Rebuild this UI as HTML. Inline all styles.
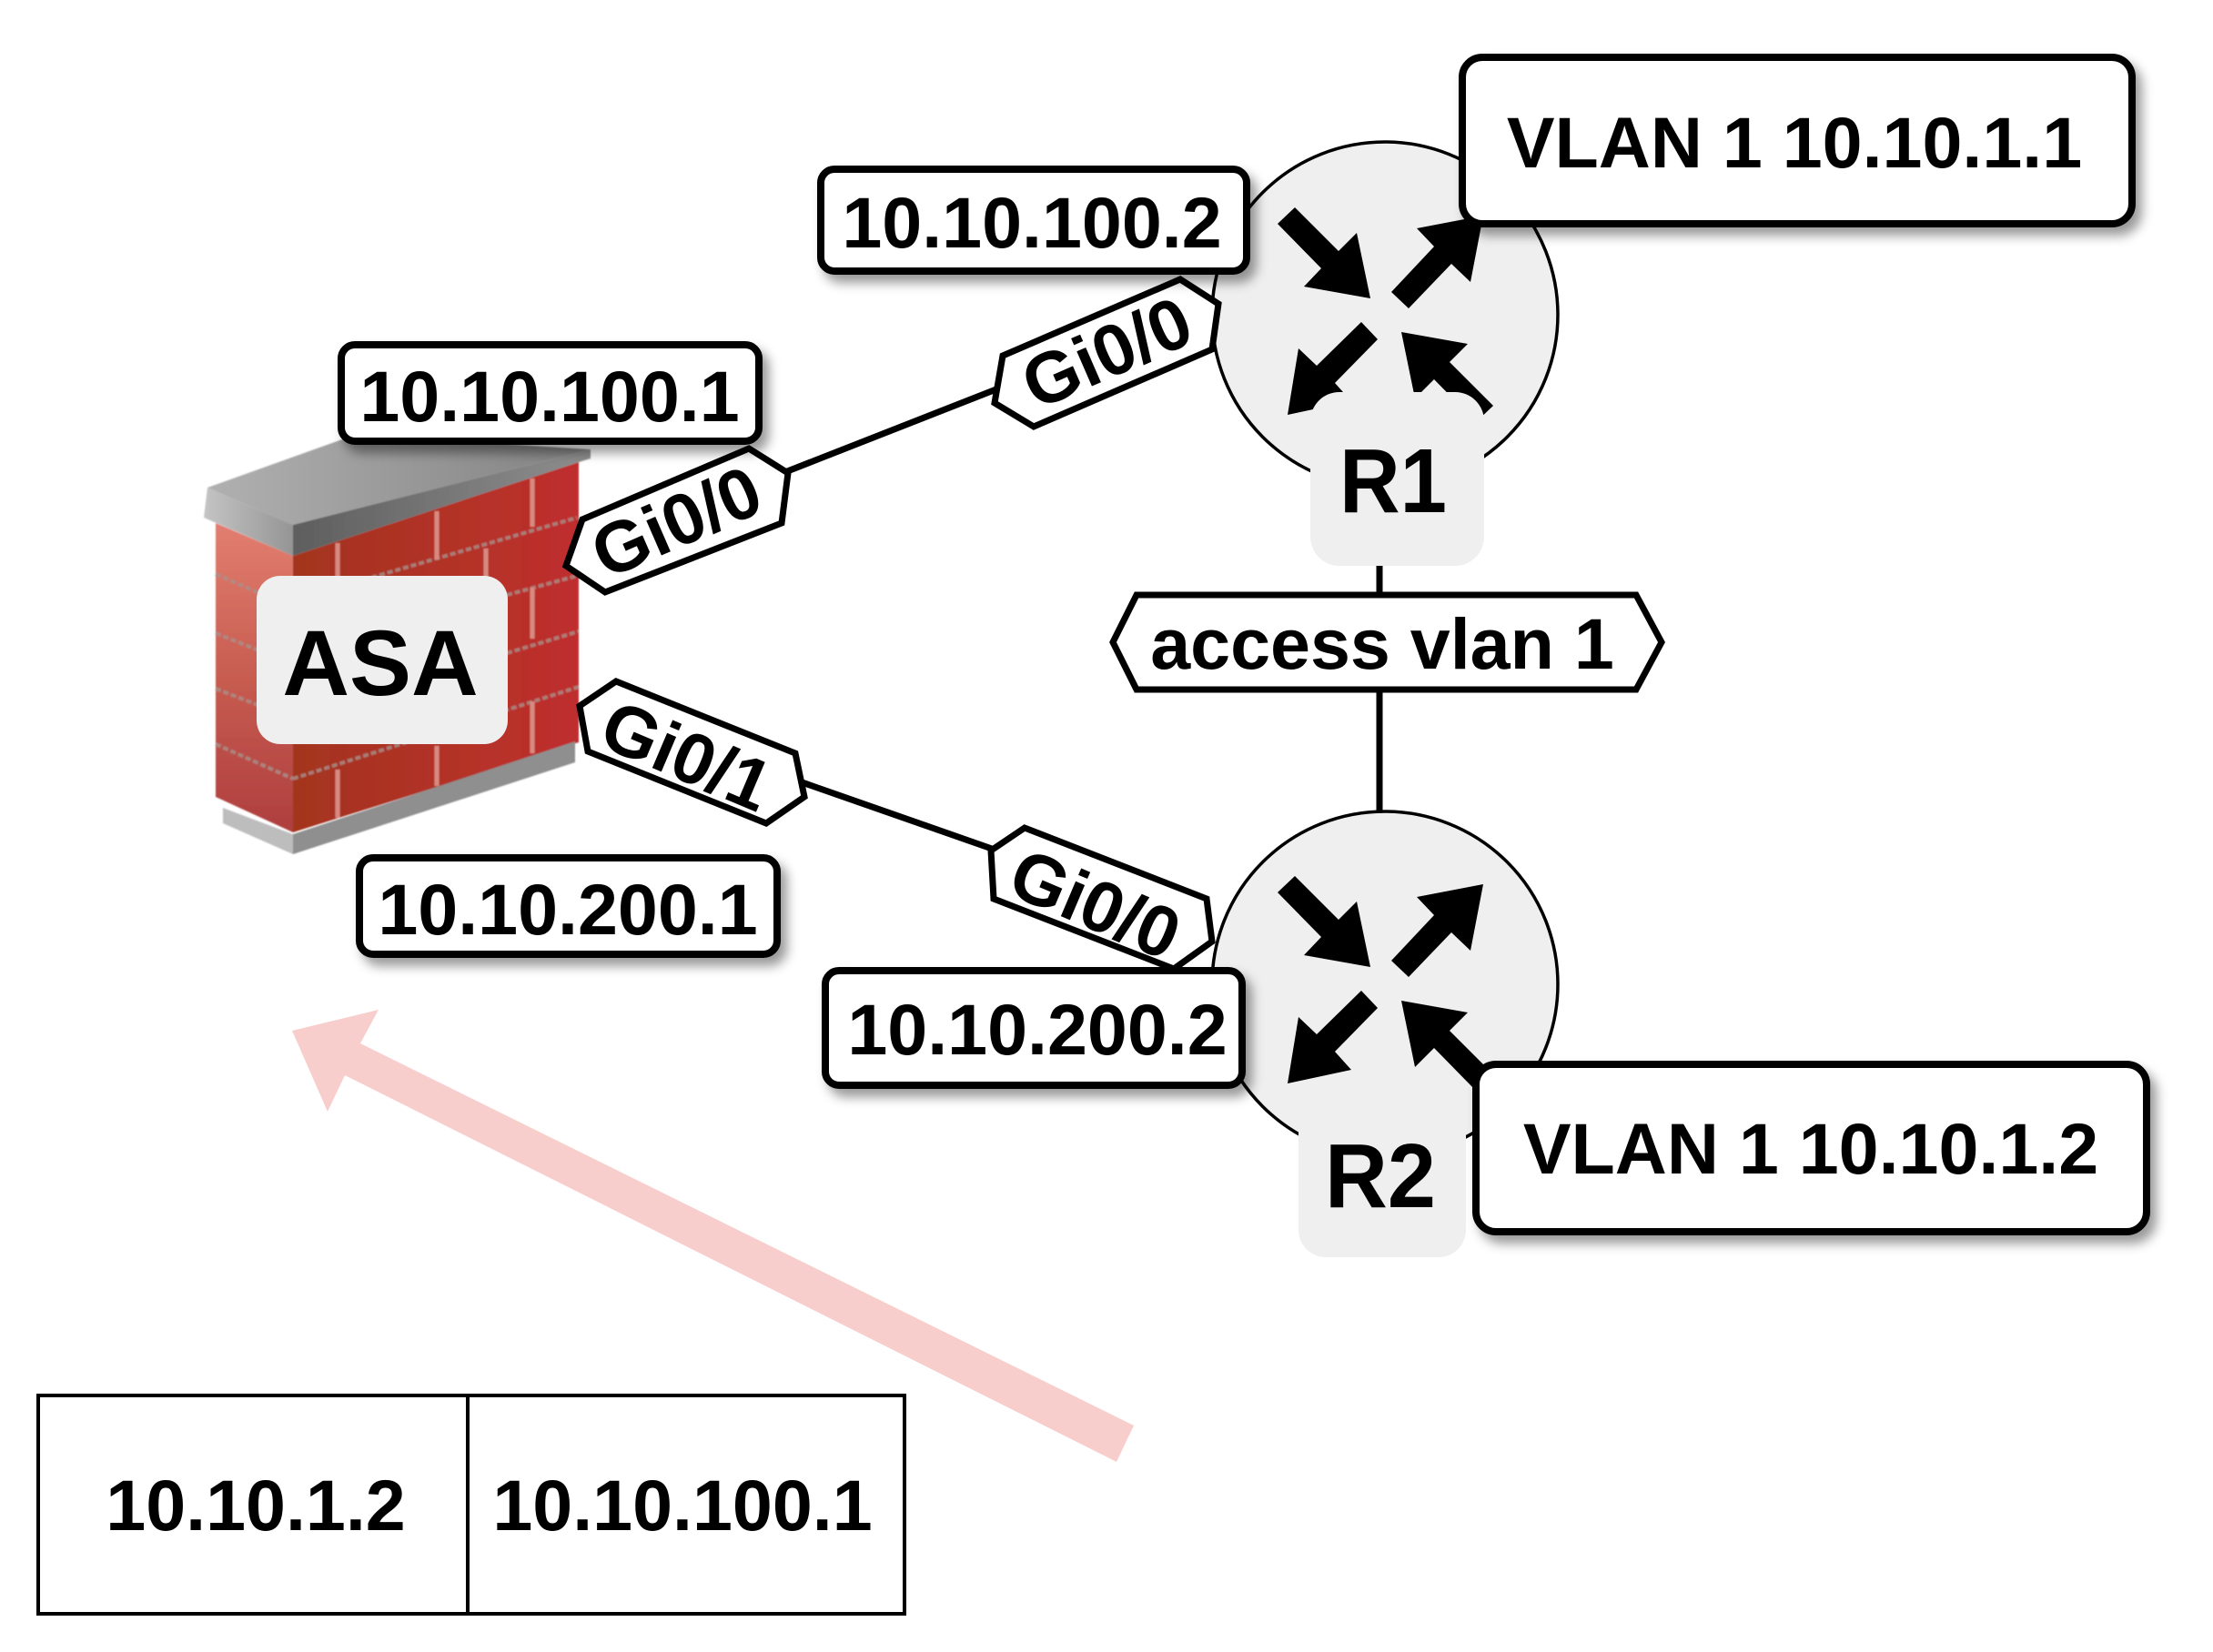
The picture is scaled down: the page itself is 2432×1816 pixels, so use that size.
<!DOCTYPE html>
<html><head><meta charset="utf-8"><style>
html,body{margin:0;padding:0;background:#fff;width:2432px;height:1816px;overflow:hidden}
svg{display:block}
text{font-family:"Liberation Sans",sans-serif;font-weight:bold;fill:#000;font-size:79px;text-anchor:middle}
.lab{fill:#fff;stroke:#000;stroke-width:8}
.hex{fill:#fff;stroke:#000;stroke-width:7}
.ln{stroke:#000;stroke-width:7;fill:none}
.mh{stroke:#d98a80;stroke-width:5;fill:none}
.mr{stroke:#a8908a;stroke-width:4;fill:none;stroke-dasharray:6 3;opacity:.8}
</style></head><body>
<svg width="2432" height="1816" viewBox="0 0 2432 1816" xmlns="http://www.w3.org/2000/svg">
<defs>
<filter id="sh" x="-10%" y="-20%" width="120%" height="150%"><feDropShadow dx="7" dy="9" stdDeviation="6" flood-color="#000" flood-opacity=".4"/></filter>
<filter id="bl"><feGaussianBlur stdDeviation="0.8"/></filter>
<linearGradient id="lf" x1="0" y1="0" x2="0" y2="1"><stop offset="0" stop-color="#e27e70"/><stop offset=".5" stop-color="#c75c50"/><stop offset="1" stop-color="#ae3e3e"/></linearGradient>
<linearGradient id="rf" x1="0" y1="0" x2="1" y2="0"><stop offset="0" stop-color="#a3341e"/><stop offset="1" stop-color="#bf2e2e"/></linearGradient>
<linearGradient id="ct" x1="0" y1="0" x2="1" y2="0"><stop offset="0" stop-color="#b0b0b0"/><stop offset="1" stop-color="#828282"/></linearGradient>
<linearGradient id="cr" x1="0" y1="0" x2="1" y2="0"><stop offset="0" stop-color="#5e5e5e"/><stop offset="1" stop-color="#8e8e8e"/></linearGradient>
<linearGradient id="cl" x1="0" y1="0" x2="1" y2="0"><stop offset="0" stop-color="#c4c4c4"/><stop offset="1" stop-color="#959595"/></linearGradient>
</defs>

<!-- firewall -->
<g filter="url(#bl)">
<polygon points="237,575 322,611 322,915 237,876" fill="url(#lf)"/>
<polygon points="322,611 636,508 636,816 322,915" fill="url(#rf)"/>
<polygon points="245,888 322,917 322,939 245,905" fill="#bdbdbd"/>
<polygon points="322,917 632,815 632,838 322,939" fill="#8f8f8f"/>
<polygon points="228,536 390,478 649,494 322,577" fill="url(#ct)"/>
<polygon points="228,536 322,577 322,611 224,569" fill="url(#cl)"/>
<polygon points="322,577 649,494 649,504 636,508 322,611" fill="url(#cr)"/>
<path class="mr" d="M322,660 L634,569M557,654L634,633M557,718L636,694M322,856L636,755"/>
<path class="mh" d="M371,597V635M480,562V615M585,526V579M534,603V635M585,646V702M585,771V828M480,820V864M371,846V899"/>
<path class="mr" d="M237,631L322,668M237,696L322,730M237,757L322,790M237,818L322,856"/>
</g>
<rect x="282" y="633" width="276" height="185" rx="26" fill="#efefef"/>
<text x="418" y="764" style="font-size:102px">ASA</text>

<!-- connectors -->
<line class="ln" x1="850" y1="524" x2="1110" y2="422"/>
<line class="ln" x1="870" y1="856" x2="1110" y2="940"/>
<line class="ln" x1="1516" y1="620" x2="1516" y2="660"/>
<line class="ln" x1="1516" y1="755" x2="1516" y2="900"/>

<!-- routers -->
<circle cx="1522" cy="346" r="190" fill="#efefef" stroke="#000" stroke-width="3.5"/>
<circle cx="1522" cy="1082" r="190" fill="#efefef" stroke="#000" stroke-width="3.5"/>
<g fill="#000">
<polygon points="1404,246 1423,228 1471,276 1491,256 1506,328 1433,315 1452,295"/>
<polygon points="1529,321 1576,271 1557,251 1630,237 1616,310 1595,290 1548,339"/>
<polygon points="1496,354 1514,373 1467,421 1485,441 1415,456 1427,383 1447,402"/>
<polygon points="1540,365 1613,378 1593,398 1641,446 1622,464 1576,417 1555,438"/>
</g>
<g fill="#000">
<polygon points="1404,981 1423,963 1471,1011 1491,991 1506,1063 1433,1050 1452,1030"/>
<polygon points="1529,1056 1576,1006 1557,986 1630,972 1616,1045 1595,1025 1548,1074"/>
<polygon points="1496,1089 1514,1108 1467,1156 1485,1176 1415,1191 1427,1118 1447,1137"/>
<polygon points="1540,1100 1613,1113 1593,1133 1641,1181 1622,1199 1576,1152 1555,1173"/>
</g>
<rect x="1440" y="431" width="191" height="191" rx="32" fill="#efefef"/>
<text x="1531" y="563" style="font-size:100px" textLength="118" lengthAdjust="spacingAndGlyphs">R1</text>
<rect x="1427" y="1197" width="184" height="185" rx="30" fill="#efefef"/>
<text x="1517" y="1327" style="font-size:100px" textLength="122" lengthAdjust="spacingAndGlyphs">R2</text>

<!-- edge labels -->
<polygon class="hex" points="1223,706 1249,654 1798,654 1826,706 1798,758 1249,758"/>
<text x="1519" y="735">access vlan 1</text>

<polygon class="hex" points="622,622 640,571 823,493 866,520 859,575 665,651"/>
<text transform="translate(743,573) rotate(-23.5)" y="28">Gi0/0</text>

<polygon class="hex" points="1093,443 1102,391 1297,307 1339,334 1332,384 1136,469"/>
<text transform="translate(1216,387) rotate(-23.5)" y="28">Gi0/0</text>

<polygon class="hex" points="637,776 677,749 874,828 884,876 842,905 646,826"/>
<text transform="translate(755,830) rotate(23)" y="28">Gi0/1</text>

<polygon class="hex" points="1089,935 1126,910 1326,988 1332,1035 1290,1065 1092,988"/>
<text transform="translate(1204,993) rotate(23)" y="28">Gi0/0</text>

<!-- boxes -->
<g filter="url(#sh)"><rect class="lab" x="375" y="379" width="459" height="106" rx="15"/></g>
<text x="604" y="463">10.10.100.1</text>
<g filter="url(#sh)"><rect class="lab" x="902" y="186" width="468" height="112" rx="15"/></g>
<text x="1134" y="272">10.10.100.2</text>
<g filter="url(#sh)"><rect class="lab" x="395" y="943" width="459" height="106" rx="15"/></g>
<text x="624" y="1027">10.10.200.1</text>
<g filter="url(#sh)"><rect class="lab" x="907" y="1067" width="458" height="126" rx="15"/></g>
<text x="1140" y="1159">10.10.200.2</text>
<g filter="url(#sh)"><rect class="lab" x="1607" y="63" width="736" height="183" rx="22"/></g>
<text x="1972" y="184">VLAN 1 10.10.1.1</text>
<g filter="url(#sh)"><rect class="lab" x="1622" y="1170" width="737" height="184" rx="22"/></g>
<text x="1990" y="1290">VLAN 1 10.10.1.2</text>

<!-- pink arrow -->
<polygon points="1246,1567 1227,1607 379,1182 360,1222 321,1133 416,1110 396,1147" fill="#f8cecc"/>

<!-- table -->
<rect x="42" y="1534" width="952" height="240" fill="#fff" stroke="#000" stroke-width="4"/>
<line x1="514" y1="1534" x2="514" y2="1774" stroke="#000" stroke-width="4"/>
<text x="281" y="1682">10.10.1.2</text>
<text x="750" y="1682">10.10.100.1</text>
</svg>
</body></html>
